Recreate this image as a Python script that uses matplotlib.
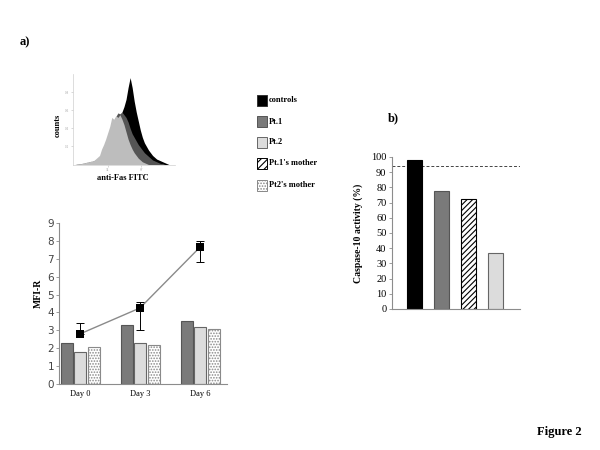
import matplotlib
matplotlib.use("Agg")
import matplotlib.pyplot as plt
from matplotlib.patches import Rectangle
import numpy as np

# ---------------- data ----------------
# flow cytometry histogram (a, top)
hist_x = [0, 2, 4, 6, 8, 10, 12, 14, 16, 18, 20, 22, 24, 26, 28, 30, 32, 34, 36, 38,
          40, 42, 44, 46, 48, 50, 52, 54, 56, 58, 60, 62, 64, 66, 68, 70, 72, 74, 76, 78,
          80, 82, 84, 86, 88, 90, 92, 94, 96, 98, 100]
hist_controls = [0, 0, 0, 0, 0, 0.01, 0.01, 0.01, 0.02, 0.02, 0.03, 0.04, 0.05, 0.07, 0.10, 0.13, 0.17, 0.21, 0.26, 0.30,
                 0.35, 0.42, 0.48, 0.53, 0.58, 0.64, 0.72, 0.85, 0.96, 0.85, 0.70, 0.58, 0.48, 0.38, 0.30, 0.24, 0.20, 0.16, 0.13, 0.10,
                 0.08, 0.06, 0.05, 0.04, 0.03, 0.02, 0.01, 0.0, 0, 0, 0]
hist_pt1 = [0, 0, 0, 0.01, 0.01, 0.01, 0.02, 0.02, 0.03, 0.03, 0.04, 0.05, 0.06, 0.08, 0.12, 0.17, 0.22, 0.28, 0.35, 0.42,
            0.48, 0.53, 0.57, 0.56, 0.58, 0.55, 0.52, 0.47, 0.40, 0.34, 0.30, 0.26, 0.22, 0.19, 0.16, 0.13, 0.11, 0.09, 0.07, 0.05,
            0.04, 0.03, 0.02, 0.01, 0.01, 0, 0, 0, 0, 0, 0]
hist_pt2 = [0, 0, 0.01, 0.01, 0.01, 0.02, 0.02, 0.03, 0.03, 0.04, 0.04, 0.06, 0.08, 0.10, 0.17, 0.22, 0.28, 0.35, 0.42, 0.52,
            0.50, 0.54, 0.52, 0.55, 0.50, 0.44, 0.36, 0.28, 0.22, 0.17, 0.13, 0.10, 0.07, 0.05, 0.03, 0.02, 0.01, 0, 0, 0,
            0, 0, 0, 0, 0, 0, 0, 0, 0, 0, 0]

# MFI-R bar chart (a, bottom)
days = ["Day 0", "Day 3", "Day 6"]
mfi_pt1 = [2.3, 3.3, 3.5]
mfi_pt2 = [1.8, 2.3, 3.2]
mfi_pt2_mother = [2.05, 2.2, 3.1]
mfi_controls = [2.8, 4.25, 7.65]
mfi_controls_err_low = [0.0, 1.25, 0.85]
mfi_controls_err_high = [0.6, 0.35, 0.35]

# Caspase-10 activity (b)
casp_groups = ["controls", "Pt.1", "Pt.1's mother", "Pt.2"]
casp_values = [98, 77.5, 72.5, 37]
casp_threshold = 94

legend_labels = ["controls", "Pt.1", "Pt.2", "Pt.1's mother", "Pt2's mother"]

# ---------------- styles ----------------
SERIF = "Liberation Serif"
C_BLACK = "#000000"
C_DARK = "#7a7a7a"
C_LIGHT = "#dcdcdc"
C_HIST_DARK = "#555555"
C_HIST_LIGHT = "#bdbdbd"
C_SPINE = "#8c8c8c"

W, H = 600, 450
fig = plt.figure(figsize=(6, 4.5), dpi=100)
plt.rcParams["hatch.linewidth"] = 0.8


def fax(left, top, right, bottom):
    return fig.add_axes([left / W, 1 - bottom / H, (right - left) / W, (bottom - top) / H])


# ---- "a)" label ----
fig.text(20 / W, 1 - 42 / H, "a)", fontfamily=SERIF, fontweight="bold", fontsize=9, va="center")

# ---- histogram ----
axh = fax(73, 74, 175, 164.5)
axh.fill_between(hist_x, hist_controls, color=C_BLACK, lw=0)
axh.fill_between(hist_x, hist_pt1, color=C_HIST_DARK, lw=0)
axh.fill_between(hist_x, hist_pt2, color=C_HIST_LIGHT, lw=0)
axh.set_xlim(0, 100)
axh.set_ylim(0, 1)
for s in ["top", "right"]:
    axh.spines[s].set_visible(False)
for s in ["left", "bottom"]:
    axh.spines[s].set_color("#cfcfcf")
    axh.spines[s].set_linewidth(0.5)
axh.set_xticks([34, 67])
axh.set_yticks([0.2, 0.4, 0.6, 0.8])
axh.tick_params(length=1.5, width=0.4, color="#bbbbbb", labelsize=2, labelcolor="#aaaaaa", pad=1)
fig.text(58 / W, 1 - 125 / H, "counts", fontfamily=SERIF, fontweight="bold", fontsize=6,
         rotation=90, ha="center", va="center")
fig.text(123 / W, 1 - 178 / H, "anti-Fas FITC", fontfamily=SERIF, fontweight="bold", fontsize=6,
         ha="center", va="center")

# ---- legend ----
axl = fax(250, 90, 340, 195)
axl.set_xlim(250, 340)
axl.set_ylim(195, 90)
axl.axis("off")
leg_styles = [
    dict(facecolor=C_BLACK, edgecolor="#333333", hatch=None),
    dict(facecolor=C_DARK, edgecolor="#555555", hatch=None),
    dict(facecolor=C_LIGHT, edgecolor="#666666", hatch=None),
    dict(facecolor="white", edgecolor="black", hatch="/////"),
    dict(facecolor="white", edgecolor="#888888", hatch="......"),
]
row_y = [100.5, 121.5, 142.5, 163, 185]
for lbl, st, yy in zip(legend_labels, leg_styles, row_y):
    axl.add_patch(Rectangle((256.5, yy - 5.5), 10.5, 11, lw=0.7, **st))
    axl.text(269, yy, lbl, fontfamily=SERIF, fontweight="bold", fontsize=6, va="center", ha="left")

# ---- MFI-R bar chart ----
axm = fax(59, 223, 227, 384)
xg = np.arange(len(days))
bw = 0.2
axm.bar(xg - 0.225, mfi_pt1, bw, color=C_DARK, edgecolor="#555555", lw=0.8, zorder=2)
axm.bar(xg, mfi_pt2, bw, color=C_LIGHT, edgecolor="#666666", lw=0.8, zorder=2)
axm.bar(xg + 0.225, mfi_pt2_mother, bw, color="white", edgecolor="#8a8a8a", hatch="......", lw=0.8, zorder=2)
axm.plot(xg, mfi_controls, color="#8a8a8a", lw=1.0, zorder=3)
axm.errorbar(xg, mfi_controls, yerr=[mfi_controls_err_low, mfi_controls_err_high], fmt="none",
             ecolor="black", elinewidth=0.7, capsize=3, capthick=0.7, zorder=3)
axm.plot(xg, mfi_controls, ls="none", marker="s", ms=6, mew=0, color="black", zorder=4)
axm.set_xlim(-0.35, -0.35 + 168 / 60)
axm.set_ylim(0, 9)
axm.set_yticks(range(0, 10))
axm.set_xticks(xg)
axm.set_xticklabels(days, fontfamily=SERIF, fontsize=6)
axm.tick_params(axis="x", length=0, pad=4)
axm.tick_params(axis="y", length=2.5, width=0.6, color=C_SPINE, labelsize=7.5, labelcolor="#444444", pad=1)
for s in ["top", "right"]:
    axm.spines[s].set_visible(False)
for s in ["left", "bottom"]:
    axm.spines[s].set_color(C_SPINE)
    axm.spines[s].set_linewidth(0.8)
fig.text(38 / W, 1 - 293 / H, "MFI-R", fontfamily=SERIF, fontweight="bold", fontsize=7,
         rotation=90, ha="center", va="center")

# ---- "b)" ----
fig.text(388 / W, 1 - 118 / H, "b)", fontfamily=SERIF, fontweight="bold", fontsize=9, va="center")

# ---- Caspase-10 chart ----
axc = fax(392, 157, 520, 309)
xc = np.arange(len(casp_groups))
cb_styles = [
    dict(color=C_BLACK, edgecolor="black"),
    dict(color=C_DARK, edgecolor="#555555"),
    dict(color="white", edgecolor="black", hatch="//////"),
    dict(color=C_LIGHT, edgecolor="#666666"),
]
for xi, v, st in zip(xc, casp_values, cb_styles):
    axc.bar(xi, v, 0.56, lw=0.8, zorder=2, **st)
axc.axhline(casp_threshold, color="#444444", lw=0.7, ls=(0, (3, 2)), zorder=1)
axc.set_xlim(-0.833, -0.833 + 128 / 27)
axc.set_ylim(0, 100)
axc.set_yticks(range(0, 101, 10))
axc.set_yticklabels([str(v) for v in range(0, 101, 10)], fontfamily=SERIF, fontsize=7.5)
axc.set_xticks([])
axc.tick_params(axis="y", length=2.5, width=0.6, color=C_SPINE, pad=1.5)
for s in ["top", "right"]:
    axc.spines[s].set_visible(False)
for s in ["left", "bottom"]:
    axc.spines[s].set_color(C_SPINE)
    axc.spines[s].set_linewidth(0.8)
fig.text(358 / W, 1 - 233 / H, "Caspase-10 activity (%)", fontfamily=SERIF, fontweight="bold", fontsize=7,
         rotation=90, ha="center", va="center")

# ---- Figure 2 ----
fig.text(582 / W, 1 - 432 / H, "Figure 2", fontfamily=SERIF, fontweight="bold", fontsize=9,
         ha="right", va="center")

fig.savefig("out.png", dpi=100)
